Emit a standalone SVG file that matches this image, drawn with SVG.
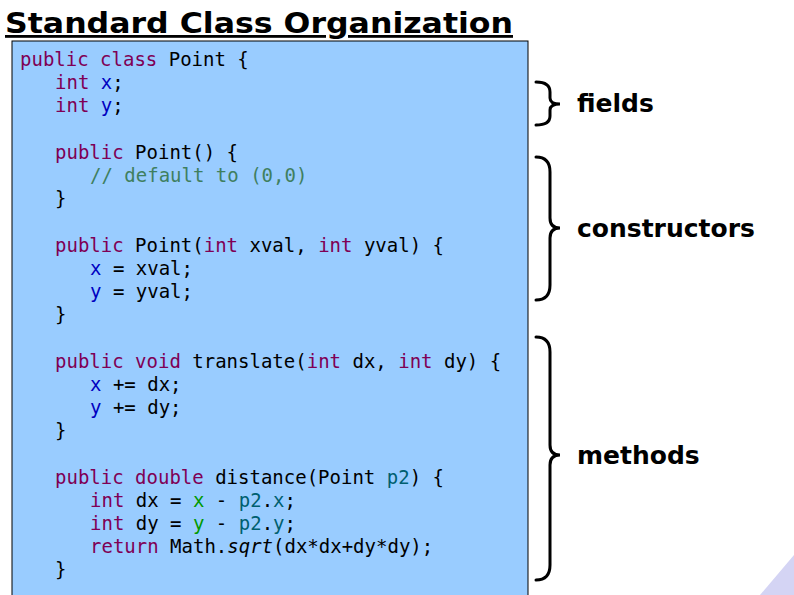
<svg xmlns="http://www.w3.org/2000/svg" width="794" height="595" viewBox="0 0 794 595">
<style>
.c{font-family:"DejaVu Sans Mono","Liberation Mono",monospace;font-size:19px;fill:#000;white-space:pre}
.k{fill:#7f0055}.f{fill:#0000c0}.g{fill:#3f7f5f}.p{fill:#005f6f}.v{fill:#009900}
.lbl{font-family:"DejaVu Sans","Verdana",sans-serif;font-weight:bold;font-size:25px;fill:#000}
.br{fill:none;stroke:#000;stroke-width:3;stroke-linecap:round}
</style>
<rect width="794" height="595" fill="#fff"/>
<polygon points="794,555 794,595 760,595" fill="#d4d4f4"/>
<g id="title"><text x="5" y="33" font-family="DejaVu Sans, Verdana, sans-serif" font-weight="bold" font-size="28" text-decoration="underline" textLength="508" lengthAdjust="spacingAndGlyphs">Standard Class Organization</text></g>
<g id="code">
<rect x="12" y="41" width="516" height="560" fill="#99ccff" stroke="#000" stroke-width="1"/>
<text class="c" x="20" y="66"><tspan class="k">public class</tspan> Point {</text>
<text class="c" x="55" y="89"><tspan class="k">int</tspan> <tspan class="f">x</tspan>;</text>
<text class="c" x="55" y="112"><tspan class="k">int</tspan> <tspan class="f">y</tspan>;</text>
<text class="c" x="55" y="159"><tspan class="k">public</tspan> Point() {</text>
<text class="c g" x="90" y="182">// default to (0,0)</text>
<text class="c" x="55" y="205">}</text>
<text class="c" x="55" y="252"><tspan class="k">public</tspan> Point(<tspan class="k">int</tspan> xval, <tspan class="k">int</tspan> yval) {</text>
<text class="c" x="90" y="275"><tspan class="f">x</tspan> = xval;</text>
<text class="c" x="90" y="298"><tspan class="f">y</tspan> = yval;</text>
<text class="c" x="55" y="321">}</text>
<text class="c" x="55" y="368"><tspan class="k">public void</tspan> translate(<tspan class="k">int</tspan> dx, <tspan class="k">int</tspan> dy) {</text>
<text class="c" x="90" y="391"><tspan class="f">x</tspan> += dx;</text>
<text class="c" x="90" y="414"><tspan class="f">y</tspan> += dy;</text>
<text class="c" x="55" y="437">}</text>
<text class="c" x="55" y="484"><tspan class="k">public double</tspan> distance(Point <tspan class="p">p2</tspan>) {</text>
<text class="c" x="90" y="507"><tspan class="k">int</tspan> dx = <tspan class="v">x</tspan> - <tspan class="p">p2</tspan>.<tspan class="p">x</tspan>;</text>
<text class="c" x="90" y="530"><tspan class="k">int</tspan> dy = <tspan class="v">y</tspan> - <tspan class="p">p2</tspan>.<tspan class="p">y</tspan>;</text>
<text class="c" x="90" y="553"><tspan class="k">return</tspan> Math.<tspan font-style="italic">sqrt</tspan>(dx*dx+dy*dy);</text>
<text class="c" x="55" y="576">}</text>
</g>
<g id="fields">
<path class="br" d="M536,82 Q550,82 550,92 L550,98 Q550,104 560,104 Q550,104 550,110 L550,116 Q550,125 536,125"/>
<text class="lbl" x="577" y="112">fields</text>
</g>
<g id="constructors">
<path class="br" d="M536,157 Q550,157 550,172 L550,218 Q550,228 560,228 Q550,228 550,238 L550,285 Q550,300 536,300"/>
<text class="lbl" x="577" y="237">constructors</text>
</g>
<g id="methods">
<path class="br" d="M536,337 Q550,337 550,352 L550,445 Q550,455 560,455 Q550,455 550,465 L550,565 Q550,580 536,580"/>
<text class="lbl" x="577" y="464">methods</text>
</g>
</svg>
